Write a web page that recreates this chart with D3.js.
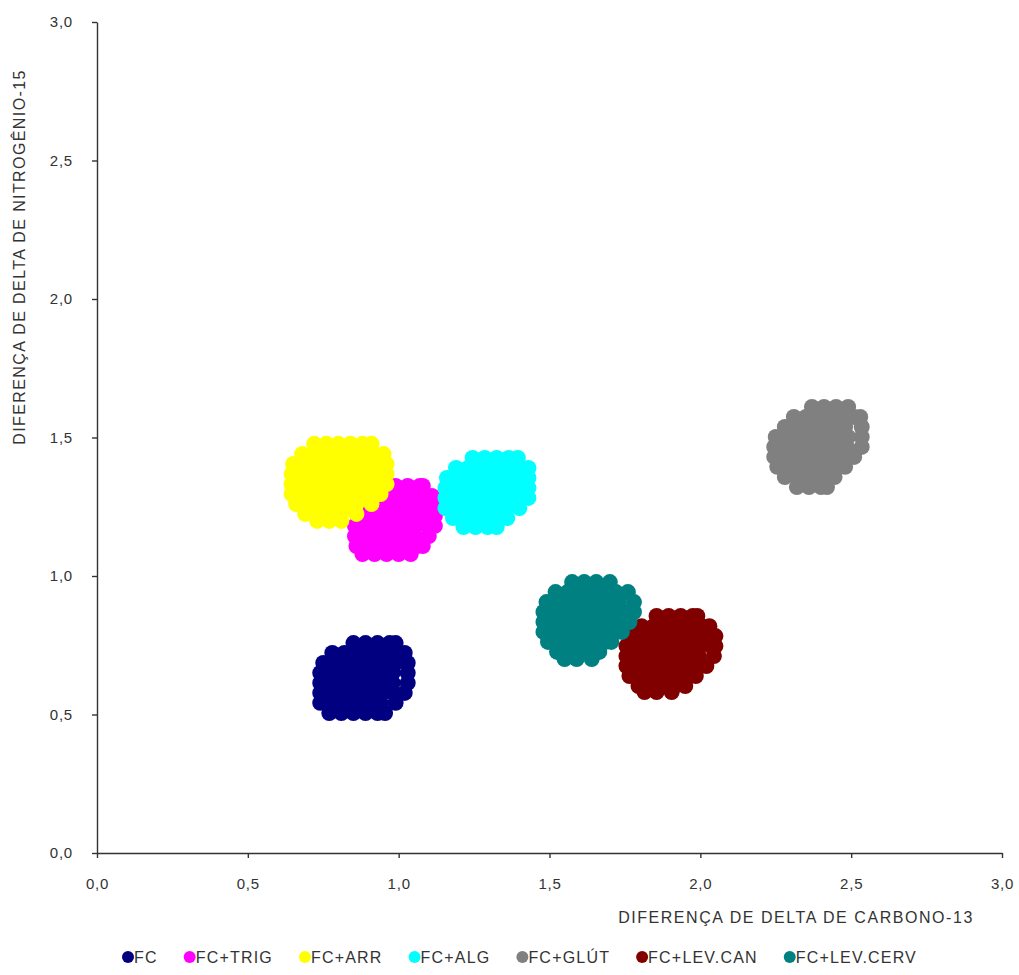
<!DOCTYPE html>
<html><head><meta charset="utf-8">
<script src="https://cdn.jsdelivr.net/npm/d3@7"></script>
<style>
body{margin:0;background:#fff;}
text{font-family:"Liberation Sans",Arial,sans-serif;fill:#333;}
</style>
</head><body>
<svg id="chart" width="1019" height="975"></svg>
<script>
// ---- data (rows: [y, [x values]]) ----
const seriesNames = ["FC","FC+TRIG","FC+ARR","FC+ALG","FC+GLÚT","FC+LEV.CAN","FC+LEV.CERV"];
const seriesColors = ["#000080","#FF00FF","#FFFF00","#00FFFF","#808080","#800000","#008080"];

const fcRows = [
  [0.758,[0.85,0.89,0.93,0.97,0.99]],
  [0.722,[0.78,0.82,0.86,0.90,0.94,0.98,1.02]],
  [0.686,[0.75,0.79,0.83,0.87,0.91,0.95,0.99,1.03]],
  [0.650,[0.74,0.78,0.82,0.86,0.90,0.94,0.98,1.03]],
  [0.614,[0.74,0.78,0.82,0.86,0.90,0.94,0.98,1.03]],
  [0.578,[0.74,0.78,0.82,0.86,0.90,0.94,0.98,1.02]],
  [0.542,[0.74,0.78,0.82,0.86,0.90,0.94,0.99]],
  [0.505,[0.77,0.81,0.85,0.89,0.93,0.955]]
];
const trigRows = [
  [1.325,[0.99,1.03,1.07,1.08]],
  [1.289,[0.955,0.99,1.03,1.07,1.11]],
  [1.253,[0.905,0.945,0.985,1.025,1.065,1.105,1.13]],
  [1.217,[0.865,0.905,0.945,0.985,1.025,1.065,1.105,1.12]],
  [1.181,[0.855,0.895,0.935,0.975,1.015,1.055,1.095,1.12]],
  [1.144,[0.855,0.895,0.935,0.975,1.015,1.055,1.10]],
  [1.108,[0.86,0.90,0.94,0.98,1.02,1.06,1.08]],
  [1.079,[0.88,0.92,0.96,1.00,1.04]]
];
const arrRows = [
  [1.477,[0.72,0.76,0.80,0.84,0.88,0.91]],
  [1.440,[0.68,0.72,0.76,0.80,0.84,0.88,0.92,0.95]],
  [1.404,[0.65,0.69,0.73,0.77,0.81,0.85,0.89,0.93,0.96]],
  [1.368,[0.645,0.68,0.72,0.76,0.80,0.84,0.88,0.92,0.96]],
  [1.332,[0.645,0.68,0.72,0.76,0.80,0.84,0.88,0.92,0.96]],
  [1.296,[0.645,0.68,0.72,0.76,0.80,0.84,0.88,0.92,0.94]],
  [1.260,[0.66,0.70,0.74,0.78,0.82,0.86,0.91]],
  [1.224,[0.69,0.73,0.77,0.81,0.86]],
  [1.199,[0.73,0.77,0.81]]
];
const algRows = [
  [1.426,[1.245,1.285,1.325,1.365,1.395]],
  [1.390,[1.19,1.23,1.27,1.31,1.35,1.39,1.43]],
  [1.354,[1.16,1.20,1.24,1.28,1.32,1.36,1.40,1.43]],
  [1.318,[1.155,1.195,1.235,1.275,1.315,1.355,1.395,1.43]],
  [1.282,[1.155,1.195,1.235,1.275,1.315,1.355,1.395,1.43]],
  [1.245,[1.155,1.195,1.235,1.275,1.315,1.355,1.40]],
  [1.209,[1.18,1.22,1.26,1.30,1.34,1.36]],
  [1.177,[1.215,1.255,1.295,1.325]]
];
const glutRows = [
  [1.610,[2.37,2.41,2.45,2.49]],
  [1.574,[2.31,2.35,2.39,2.43,2.47,2.51,2.53]],
  [1.538,[2.28,2.32,2.36,2.40,2.44,2.48,2.535]],
  [1.502,[2.25,2.29,2.33,2.37,2.41,2.45,2.49,2.535]],
  [1.466,[2.245,2.285,2.325,2.365,2.405,2.445,2.485,2.535]],
  [1.430,[2.245,2.285,2.325,2.365,2.405,2.445,2.485,2.51]],
  [1.394,[2.255,2.295,2.335,2.375,2.415,2.455,2.48]],
  [1.357,[2.28,2.32,2.36,2.40,2.445]],
  [1.321,[2.32,2.36,2.40,2.42]]
];
const levCanRows = [
  [0.856,[1.855,1.895,1.935,1.975,1.99]],
  [0.819,[1.805,1.845,1.885,1.925,1.965,2.005,2.03]],
  [0.783,[1.775,1.815,1.855,1.895,1.935,1.975,2.015,2.05]],
  [0.747,[1.755,1.795,1.835,1.875,1.915,1.955,1.995,2.035,2.05]],
  [0.711,[1.755,1.795,1.835,1.875,1.915,1.955,1.995,2.045]],
  [0.675,[1.755,1.795,1.835,1.875,1.915,1.955,1.995,2.02]],
  [0.639,[1.765,1.805,1.845,1.885,1.925,1.955,1.985]],
  [0.603,[1.795,1.835,1.875,1.915,1.95]],
  [0.581,[1.815,1.855,1.905]]
];
const levCervRows = [
  [0.978,[1.575,1.615,1.655,1.70]],
  [0.942,[1.52,1.56,1.60,1.64,1.68,1.72,1.76]],
  [0.906,[1.49,1.53,1.57,1.61,1.65,1.69,1.73,1.78]],
  [0.870,[1.48,1.52,1.56,1.60,1.64,1.68,1.72,1.76,1.78]],
  [0.834,[1.48,1.52,1.56,1.60,1.64,1.68,1.72,1.765]],
  [0.798,[1.48,1.52,1.56,1.60,1.64,1.68,1.71,1.74]],
  [0.762,[1.495,1.535,1.575,1.615,1.655,1.685,1.705]],
  [0.726,[1.525,1.565,1.605,1.645,1.665]],
  [0.700,[1.55,1.59,1.64]]
];

const tickValues = [0,0.5,1,1.5,2,2.5,3];
const tickLabels = ["0,0","0,5","1,0","1,5","2,0","2,5","3,0"];
const xTitle = "DIFERENÇA DE DELTA DE CARBONO-13";
const yTitle = "DIFERENÇA DE DELTA DE NITROGÊNIO-15";

// ---- build ----
const allRows = [fcRows, trigRows, arrRows, algRows, glutRows, levCanRows, levCervRows];
const series = seriesNames.map((name, i) => ({
  name, color: seriesColors[i],
  points: allRows[i].flatMap(([y, xs]) => xs.map(x => ({x, y})))
}));

const svg = d3.select("#chart");
const x = d3.scaleLinear().domain([0,3]).range([97,1002]);
const y = d3.scaleLinear().domain([0,3]).range([853,22]);
const fmt = v => tickLabels[tickValues.indexOf(v)];

// points
const gPts = svg.append("g");
series.forEach(s => {
  gPts.append("g").selectAll("circle").data(s.points).join("circle")
    .attr("cx", d => x(d.x)).attr("cy", d => y(d.y)).attr("r", 8)
    .attr("fill", s.color);
});

// axes
const xAxis = svg.append("g").attr("transform", "translate(0,853)")
  .call(d3.axisBottom(x).tickValues(tickValues).tickFormat(fmt).tickSize(5).tickSizeOuter(0).tickPadding(20));
const yAxis = svg.append("g").attr("transform", "translate(97,0)")
  .call(d3.axisLeft(y).tickValues(tickValues).tickFormat(fmt).tickSize(5).tickSizeOuter(0).tickPadding(19));
[xAxis, yAxis].forEach(a => {
  a.selectAll("path,line").attr("stroke", "#333").attr("stroke-width", 1.4);
  a.selectAll("text").attr("font-size", 15).attr("fill", "#333")
    .style("letter-spacing", "0.8px")
    .attr("font-family", '"Liberation Sans",Arial,sans-serif');
});

// titles
svg.append("text").attr("x", 796).attr("y", 923).attr("text-anchor", "middle")
  .attr("font-size", 16).style("letter-spacing", "1.55px").text(xTitle);
svg.append("text").attr("transform", "translate(25,257) rotate(-90)").attr("text-anchor", "middle")
  .attr("font-size", 16).style("letter-spacing", "1.4px").text(yTitle);

// legend
const leg = svg.append("g");
const items = series.map(s => {
  const g = leg.append("g");
  g.append("circle").attr("cx", 6).attr("cy", 0).attr("r", 6).attr("fill", s.color);
  const t = g.append("text").attr("x", 12).attr("y", 6).attr("font-size", 16)
    .style("letter-spacing", "1.2px").text(s.name);
  return {g, w: 12 + t.node().getComputedTextLength()};
});
const legLeft = 122, legRight = 917;
const gap = (legRight - legLeft - d3.sum(items, d => d.w)) / (items.length - 1);
let cx = legLeft;
items.forEach(it => { it.g.attr("transform", `translate(${cx},0)`); cx += it.w + gap; });
leg.attr("transform", "translate(0,957)");
</script>
</body></html>
